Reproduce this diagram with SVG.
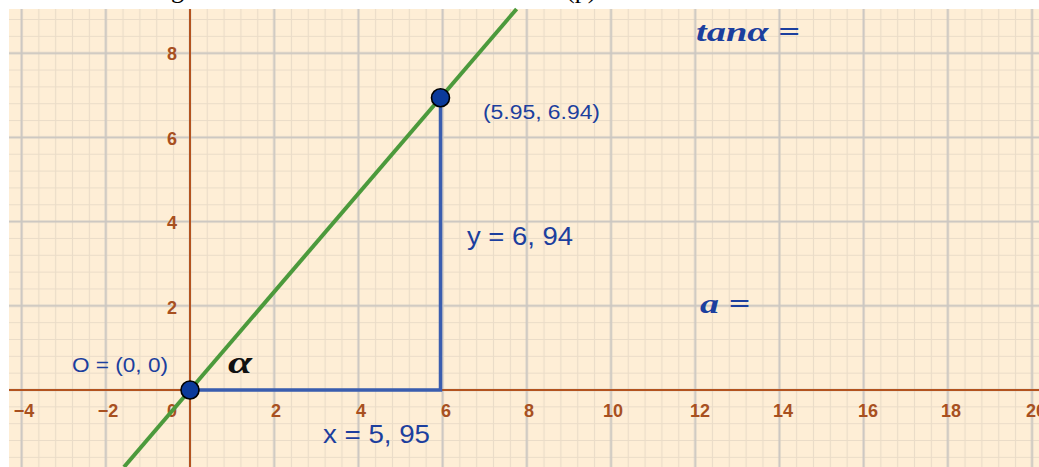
<svg xmlns="http://www.w3.org/2000/svg" width="1039" height="467" viewBox="0 0 1039 467">
  <defs>
    <style>
      .tick { font-family: "Liberation Sans", Arial, sans-serif; font-size: 18px; font-weight: bold; fill: #A8501F; text-anchor: middle; }
      .lbl { font-family: "Liberation Sans", Arial, sans-serif; fill: #1C3F9E; }
      .math { font-family: "Liberation Serif", "Times New Roman", serif; font-style: italic; font-weight: bold; fill: #1C3F9E; }
      .pt { fill: #0B3A9B; stroke: #000; stroke-width: 1.6; }
      .frag { font-family: "Liberation Serif", "Times New Roman", serif; font-size: 26px; fill: #000; }
    </style>
    <pattern id="minor" patternUnits="userSpaceOnUse" x="13.58" y="44.78" width="16.84" height="16.84">
      <path d="M8.42 0 V16.84 M0 8.42 H16.84" stroke="#EADCC8" stroke-width="1.2" fill="none"/>
    </pattern>
    <pattern id="major" patternUnits="userSpaceOnUse" x="-20.5" y="11.1" width="84.2" height="84.2">
      <path d="M42.1 0 V84.2 M0 42.1 H84.2" stroke="#CBC7C2" stroke-width="2" fill="none"/>
    </pattern>
  </defs>
  <rect width="1039" height="467" fill="#FFFFFF"/>
  <text class="frag" x="171" y="-2">g</text>
  <text class="frag" x="566" y="-2">(p)</text>
  <g id="grid">
    <rect x="9" y="9" width="1030" height="458" fill="#FEEED6"/>
    <rect x="9" y="9" width="1030" height="458" fill="url(#minor)"/>
    <rect x="9" y="9" width="1030" height="458" fill="url(#major)"/>
  </g>
  <g id="axes">
    <line x1="9" y1="390" x2="1039" y2="390" stroke="#B3531F" stroke-width="2"/>
    <line x1="190" y1="9" x2="190" y2="467" stroke="#B3531F" stroke-width="2"/>
    <text class="tick" x="24" y="417">−4</text>
    <text class="tick" x="108" y="417">−2</text>
    <text class="tick" x="172" y="417">0</text>
    <text class="tick" x="276" y="417">2</text>
    <text class="tick" x="361" y="417">4</text>
    <text class="tick" x="446" y="417">6</text>
    <text class="tick" x="529" y="417">8</text>
    <text class="tick" x="613" y="417">10</text>
    <text class="tick" x="700" y="417">12</text>
    <text class="tick" x="783" y="417">14</text>
    <text class="tick" x="868" y="417">16</text>
    <text class="tick" x="951" y="417">18</text>
    <text class="tick" x="1036" y="417">20</text>
    <text class="tick" x="172" y="314">2</text>
    <text class="tick" x="172" y="229">4</text>
    <text class="tick" x="172" y="145">6</text>
    <text class="tick" x="172" y="60">8</text>
  </g>
  <g id="connectors">
    <line id="line-f" x1="124" y1="467" x2="516.6" y2="9" stroke="#4C9A3C" stroke-width="4"/>
    <path id="legs" d="M190 390 H440.5 V97.8" fill="none" stroke="#3A5DAF" stroke-width="3.5"/>
  </g>
  <g id="node-O">
    <circle class="pt" cx="190" cy="390" r="9"/>
    <text class="lbl" x="72" y="372" font-size="21" textLength="96" lengthAdjust="spacingAndGlyphs">O = (0, 0)</text>
  </g>
  <g id="node-P">
    <circle class="pt" cx="440.5" cy="97.8" r="9"/>
    <text class="lbl" x="483" y="119" font-size="20" textLength="117" lengthAdjust="spacingAndGlyphs">(5.95, 6.94)</text>
  </g>
  <g id="label-y">
    <text class="lbl" x="467" y="245" font-size="25" textLength="106" lengthAdjust="spacingAndGlyphs">y = 6, 94</text>
  </g>
  <g id="label-x">
    <text class="lbl" x="323" y="443" font-size="26" textLength="107" lengthAdjust="spacingAndGlyphs">x = 5, 95</text>
  </g>
  <g id="label-alpha">
    <text x="228" y="373" font-family="Liberation Serif, serif" font-style="italic" font-weight="bold" font-size="32" fill="#111" textLength="24" lengthAdjust="spacingAndGlyphs">α</text>
  </g>
  <g id="label-tan">
    <text class="math" x="696" y="41" font-size="27" textLength="104" lengthAdjust="spacingAndGlyphs">tanα =</text>
  </g>
  <g id="label-a">
    <text class="math" x="700" y="313" font-size="27" textLength="50" lengthAdjust="spacingAndGlyphs">a =</text>
  </g>
</svg>
